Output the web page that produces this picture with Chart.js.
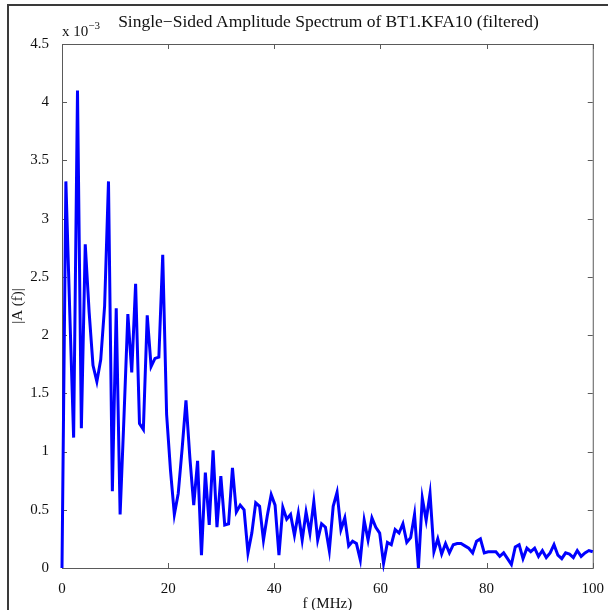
<!DOCTYPE html>
<html>
<head>
<meta charset="utf-8">
<script src="https://cdn.jsdelivr.net/npm/chart.js@4/dist/chart.umd.min.js"></script>
<style>
    html, body { margin: 0; padding: 0; background: #fff; }
    #wrap { position: relative; width: 608px; height: 610px; overflow: hidden; }
    #frame {
        position: absolute; left: 7px; top: 4px; width: 660px; height: 660px;
        border: 2px solid #3a3a3a; box-sizing: border-box;
    }
    #box { position: absolute; left: 0; top: 0; width: 608px; height: 610px; }
    .txt {
        position: absolute; white-space: nowrap; color: #111;
        font-family: "Liberation Serif", "DejaVu Serif", serif;
    }
    #title { left: 0; width: 657px; top: 11px; text-align: center; font-size: 17.5px; }
    #expo  { left: 62px; top: 20px; font-size: 15px; }
    #expo sup { font-size: 11px; position: relative; top: -1px; }
</style>
</head>
<body>
<div id="wrap">
    <div id="frame"></div>
    <div id="box"><canvas id="spectrum"></canvas></div>
    <div class="txt" id="title">Single−Sided Amplitude Spectrum of BT1.KFA10 (filtered)</div>
    <div class="txt" id="expo">x 10<sup>−3</sup></div>
</div>
<script>
// |A(f)| in units of 1e-3, one value per FFT bin
const FREQ_STEP = 100 / 137;   // MHz per bin
const AMP = [
    0.00, 3.32, 2.20, 1.12, 4.10, 1.20, 2.78, 2.20, 1.74, 1.60,
    1.79, 2.25, 3.32, 0.66, 2.23, 0.46, 1.30, 2.18, 1.68, 2.44,
    1.24, 1.19, 2.17, 1.73, 1.80, 1.81, 2.69, 1.32, 0.84, 0.46,
    0.64, 1.02, 1.44, 0.95, 0.54, 0.92, 0.11, 0.82, 0.37, 1.01,
    0.35, 0.79, 0.37, 0.38, 0.86, 0.48, 0.54, 0.50, 0.13, 0.30,
    0.56, 0.53, 0.24, 0.45, 0.63, 0.54, 0.11, 0.52, 0.42, 0.46,
    0.28, 0.47, 0.24, 0.48, 0.30, 0.57, 0.24, 0.38, 0.35, 0.15,
    0.53, 0.65, 0.33, 0.43, 0.19, 0.23, 0.21, 0.07, 0.41, 0.24,
    0.43, 0.35, 0.30, 0.04, 0.22, 0.20, 0.33, 0.30, 0.38, 0.22,
    0.26, 0.46, 0.00, 0.60, 0.41, 0.64, 0.14, 0.25, 0.12, 0.21,
    0.13, 0.20, 0.21, 0.21, 0.19, 0.17, 0.13, 0.23, 0.25, 0.13,
    0.14, 0.14, 0.14, 0.10, 0.13, 0.08, 0.03, 0.18, 0.20, 0.08,
    0.17, 0.14, 0.17, 0.10, 0.15, 0.09, 0.13, 0.20, 0.11, 0.08,
    0.13, 0.12, 0.09, 0.15, 0.10, 0.13, 0.15, 0.14,
];

const X_TICKS = [0, 20, 40, 60, 80, 100];
const Y_TICKS = [0, 0.5, 1, 1.5, 2, 2.5, 3, 3.5, 4, 4.5];

const SERIF = '"Liberation Serif", "DejaVu Serif", serif';
const AXIS_COLOR = '#5a5a5a';
const TICK_LEN = 5;

// MATLAB-like box with inward ticks on all four sides
const matlabAxes = {
    id: 'matlabAxes',
    beforeDatasetsDraw(chart) {
        const { ctx, chartArea: a, scales: { x, y } } = chart;
        ctx.save();
        ctx.strokeStyle = AXIS_COLOR;
        ctx.lineWidth = 1;
        ctx.beginPath();
        X_TICKS.forEach(v => {
            const px = Math.round(x.getPixelForValue(v)) + 0.5;
            ctx.moveTo(px, a.bottom); ctx.lineTo(px, a.bottom - TICK_LEN);
            ctx.moveTo(px, a.top);    ctx.lineTo(px, a.top + TICK_LEN);
        });
        Y_TICKS.forEach(v => {
            const py = Math.round(y.getPixelForValue(v)) + 0.5;
            ctx.moveTo(a.left, py);  ctx.lineTo(a.left + TICK_LEN, py);
            ctx.moveTo(a.right, py); ctx.lineTo(a.right - TICK_LEN, py);
        });
        ctx.stroke();
        ctx.strokeRect(a.left + 0.5, a.top + 0.5, a.right - a.left, a.bottom - a.top);
        ctx.restore();
    },
};

new Chart(document.getElementById('spectrum').getContext('2d'), {
    type: 'line',
    data: {
        datasets: [{
            data: AMP.map((a, i) => ({ x: i * FREQ_STEP, y: a })),
            borderColor: '#0000ff',
            borderWidth: 3,
            pointRadius: 0,
            tension: 0,
            clip: 4,
        }],
    },
    options: {
        animation: false,
        responsive: true,
        maintainAspectRatio: false,
        layout: { padding: { left: 0, top: 44, right: 13, bottom: 0 } },
        plugins: { legend: { display: false }, tooltip: { enabled: false } },
        scales: {
            x: {
                type: 'linear',
                min: 0,
                max: 100,
                grid: { display: false },
                border: { display: false },
                afterBuildTicks: s => { s.ticks = X_TICKS.map(v => ({ value: v })); },
                afterFit: s => { s.height = 42; },
                ticks: {
                    padding: 4,
                    maxRotation: 0,
                    autoSkip: false,
                    color: '#111',
                    font: { family: SERIF, size: 15 },
                },
                title: {
                    display: true,
                    text: 'f (MHz)',
                    color: '#111',
                    padding: 0,
                    font: { family: SERIF, size: 15, lineHeight: 0.85 },
                },
            },
            y: {
                min: 0,
                max: 4.5,
                grid: { display: false },
                border: { display: false },
                afterBuildTicks: s => { s.ticks = Y_TICKS.map(v => ({ value: v })); },
                afterFit: s => { s.width = 62; },
                ticks: {
                    padding: 5,
                    color: '#111',
                    font: { family: SERIF, size: 15 },
                    callback: v => String(v),
                },
                title: {
                    display: true,
                    text: '|A (f)|',
                    color: '#111',
                    padding: { top: 11, bottom: 0 },
                    font: { family: SERIF, size: 15, lineHeight: 1 },
                },
            },
        },
    },
    plugins: [matlabAxes],
});
</script>
</body>
</html>
